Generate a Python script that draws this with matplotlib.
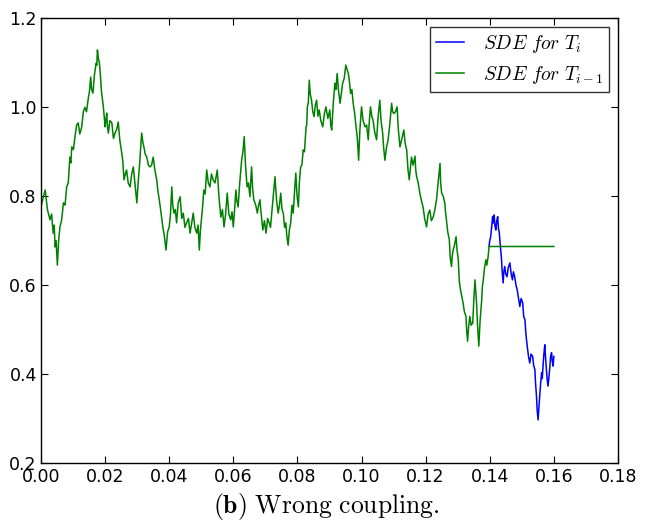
import matplotlib
matplotlib.use('Agg')
import matplotlib.pyplot as plt
from matplotlib.ticker import FormatStrFormatter

plt.rcParams['mathtext.fontset'] = 'cm'

# shared path (SDE for T_{i-1}); last point is the frozen value
t_green = [0.0000, 0.0006, 0.0013, 0.0020, 0.0028, 0.0033, 0.0038, 0.0041, 0.0044, 0.0047,
           0.0051, 0.0055, 0.0059, 0.0064, 0.0070, 0.0075, 0.0080, 0.0085, 0.0090, 0.0093,
           0.0096, 0.0101, 0.0106, 0.0111, 0.0116, 0.0121, 0.0127, 0.0132, 0.0137, 0.0142,
           0.0148, 0.0151, 0.0155, 0.0158, 0.0162, 0.0167, 0.0172, 0.0174, 0.0176, 0.0179,
           0.0182, 0.0185, 0.0189, 0.0194, 0.0200, 0.0202, 0.0205, 0.0207, 0.0210, 0.0215,
           0.0221, 0.0226, 0.0231, 0.0236, 0.0241, 0.0246, 0.0252, 0.0255, 0.0259, 0.0263,
           0.0267, 0.0272, 0.0278, 0.0283, 0.0288, 0.0293, 0.0299, 0.0303, 0.0307, 0.0310,
           0.0314, 0.0318, 0.0321, 0.0325, 0.0330, 0.0335, 0.0340, 0.0345, 0.0350, 0.0355,
           0.0361, 0.0365, 0.0369, 0.0375, 0.0380, 0.0385, 0.0390, 0.0395, 0.0400, 0.0404,
           0.0408, 0.0411, 0.0415, 0.0419, 0.0423, 0.0428, 0.0434, 0.0439, 0.0444, 0.0449,
           0.0454, 0.0460, 0.0465, 0.0470, 0.0475, 0.0480, 0.0486, 0.0490, 0.0494, 0.0497,
           0.0501, 0.0504, 0.0508, 0.0512, 0.0517, 0.0522, 0.0527, 0.0532, 0.0537, 0.0543,
           0.0550, 0.0555, 0.0561, 0.0566, 0.0571, 0.0576, 0.0581, 0.0586, 0.0592, 0.0596,
           0.0600, 0.0604, 0.0608, 0.0611, 0.0615, 0.0620, 0.0626, 0.0630, 0.0634, 0.0638,
           0.0643, 0.0647, 0.0652, 0.0654, 0.0657, 0.0660, 0.0664, 0.0670, 0.0675, 0.0679,
           0.0683, 0.0687, 0.0692, 0.0697, 0.0702, 0.0707, 0.0712, 0.0716, 0.0720, 0.0725,
           0.0730, 0.0735, 0.0740, 0.0744, 0.0748, 0.0752, 0.0756, 0.0760, 0.0764, 0.0767,
           0.0771, 0.0775, 0.0779, 0.0783, 0.0787, 0.0791, 0.0795, 0.0799, 0.0803, 0.0806,
           0.0810, 0.0814, 0.0818, 0.0822, 0.0827, 0.0829, 0.0831, 0.0834, 0.0837, 0.0840,
           0.0844, 0.0848, 0.0852, 0.0856, 0.0860, 0.0864, 0.0868, 0.0873, 0.0879, 0.0884,
           0.0889, 0.0895, 0.0901, 0.0904, 0.0907, 0.0912, 0.0917, 0.0920, 0.0924, 0.0928,
           0.0933, 0.0937, 0.0941, 0.0946, 0.0951, 0.0955, 0.0959, 0.0962, 0.0966, 0.0970,
           0.0974, 0.0978, 0.0983, 0.0987, 0.0991, 0.0995, 0.1000, 0.1005, 0.1011, 0.1016,
           0.1021, 0.1024, 0.1028, 0.1032, 0.1036, 0.1041, 0.1047, 0.1052, 0.1057, 0.1061,
           0.1066, 0.1069, 0.1073, 0.1078, 0.1083, 0.1088, 0.1094, 0.1097, 0.1101, 0.1106,
           0.1111, 0.1115, 0.1120, 0.1126, 0.1132, 0.1136, 0.1141, 0.1145, 0.1149, 0.1152,
           0.1156, 0.1161, 0.1167, 0.1169, 0.1172, 0.1177, 0.1182, 0.1187, 0.1192, 0.1197,
           0.1203, 0.1208, 0.1213, 0.1218, 0.1224, 0.1229, 0.1234, 0.1239, 0.1245, 0.1247,
           0.1250, 0.1255, 0.1260, 0.1262, 0.1265, 0.1269, 0.1274, 0.1277, 0.1281, 0.1283,
           0.1286, 0.1290, 0.1295, 0.1298, 0.1302, 0.1305, 0.1309, 0.1313, 0.1317, 0.1321,
           0.1326, 0.1328, 0.1331, 0.1334, 0.1338, 0.1342, 0.1347, 0.1350, 0.1354, 0.1356,
           0.1359, 0.1362, 0.1366, 0.1370, 0.1375, 0.1377, 0.1380, 0.1384, 0.1388, 0.1391,
           0.1395, 0.1398, 0.1600]
y_green = [0.776, 0.795, 0.814, 0.770, 0.747, 0.760, 0.717, 0.735, 0.686, 0.700,
           0.645, 0.700, 0.731, 0.745, 0.785, 0.780, 0.821, 0.830, 0.888, 0.875,
           0.911, 0.905, 0.934, 0.960, 0.965, 0.940, 0.956, 0.990, 1.000, 0.990,
           1.023, 1.035, 1.068, 1.040, 1.032, 1.075, 1.099, 1.095, 1.129, 1.110,
           1.100, 1.075, 1.032, 1.005, 0.956, 0.970, 0.987, 0.960, 0.942, 0.970,
           0.965, 0.930, 0.942, 0.950, 0.967, 0.925, 0.897, 0.880, 0.837, 0.850,
           0.859, 0.830, 0.821, 0.850, 0.866, 0.830, 0.785, 0.830, 0.866, 0.900,
           0.942, 0.920, 0.911, 0.895, 0.888, 0.870, 0.866, 0.870, 0.888, 0.860,
           0.837, 0.810, 0.792, 0.760, 0.731, 0.710, 0.679, 0.720, 0.731, 0.760,
           0.821, 0.780, 0.762, 0.770, 0.740, 0.785, 0.799, 0.750, 0.762, 0.730,
           0.740, 0.750, 0.717, 0.740, 0.762, 0.730, 0.717, 0.735, 0.679, 0.720,
           0.753, 0.775, 0.814, 0.805, 0.859, 0.830, 0.821, 0.850, 0.837, 0.830,
           0.859, 0.800, 0.753, 0.770, 0.731, 0.760, 0.807, 0.760, 0.747, 0.765,
           0.731, 0.770, 0.814, 0.790, 0.776, 0.830, 0.881, 0.900, 0.934, 0.870,
           0.821, 0.830, 0.799, 0.830, 0.866, 0.820, 0.792, 0.780, 0.762, 0.780,
           0.792, 0.760, 0.724, 0.745, 0.717, 0.750, 0.740, 0.730, 0.762, 0.800,
           0.844, 0.790, 0.762, 0.780, 0.807, 0.770, 0.762, 0.730, 0.740, 0.710,
           0.690, 0.725, 0.740, 0.780, 0.762, 0.810, 0.852, 0.800, 0.776, 0.830,
           0.866, 0.870, 0.904, 0.900, 0.956, 0.960, 1.001, 1.010, 1.061, 1.030,
           1.016, 0.990, 0.979, 1.005, 1.016, 0.980, 0.994, 0.970, 0.956, 0.985,
           1.001, 0.975, 0.994, 0.960, 0.949, 1.010, 1.054, 1.040, 1.076, 1.040,
           1.009, 1.030, 1.054, 1.065, 1.095, 1.085, 1.076, 1.060, 1.031, 1.040,
           1.009, 0.990, 0.956, 0.930, 0.881, 0.950, 1.001, 0.970, 0.956, 0.960,
           0.927, 0.965, 1.001, 0.980, 0.971, 0.945, 0.927, 0.980, 1.016, 0.970,
           0.942, 0.910, 0.881, 0.910, 0.927, 0.960, 1.009, 0.990, 0.986, 0.990,
           1.001, 0.950, 0.911, 0.930, 0.949, 0.920, 0.904, 0.860, 0.837, 0.860,
           0.888, 0.870, 0.890, 0.860, 0.844, 0.830, 0.807, 0.790, 0.776, 0.750,
           0.731, 0.760, 0.769, 0.745, 0.754, 0.770, 0.792, 0.830, 0.874, 0.830,
           0.807, 0.800, 0.784, 0.765, 0.747, 0.720, 0.702, 0.660, 0.642, 0.665,
           0.679, 0.690, 0.709, 0.680, 0.657, 0.610, 0.589, 0.575, 0.560, 0.540,
           0.530, 0.500, 0.474, 0.505, 0.530, 0.510, 0.515, 0.560, 0.612, 0.590,
           0.560, 0.510, 0.463, 0.520, 0.567, 0.595, 0.612, 0.640, 0.657, 0.645,
           0.664, 0.687, 0.687]

# branch after the coupling time (SDE for T_i)
t_blue = [0.1398, 0.1400, 0.1403, 0.1406, 0.1409, 0.1411, 0.1414, 0.1416, 0.1419, 0.1422,
          0.1425, 0.1427, 0.1430, 0.1433, 0.1437, 0.1439, 0.1442, 0.1444, 0.1447, 0.1450,
          0.1454, 0.1458, 0.1463, 0.1467, 0.1471, 0.1474, 0.1478, 0.1482, 0.1486, 0.1490,
          0.1494, 0.1498, 0.1503, 0.1506, 0.1510, 0.1513, 0.1517, 0.1521, 0.1525, 0.1529,
          0.1534, 0.1537, 0.1541, 0.1543, 0.1546, 0.1548, 0.1551, 0.1553, 0.1556, 0.1559,
          0.1562, 0.1564, 0.1567, 0.1569, 0.1572, 0.1574, 0.1577, 0.1579, 0.1582, 0.1585,
          0.1588, 0.1590, 0.1593, 0.1595, 0.1598, 0.1600]
y_blue = [0.687, 0.700, 0.709, 0.730, 0.754, 0.740, 0.758, 0.735, 0.724, 0.745,
          0.754, 0.730, 0.717, 0.690, 0.657, 0.630, 0.605, 0.630, 0.642, 0.625,
          0.619, 0.640, 0.650, 0.625, 0.612, 0.630, 0.619, 0.600, 0.589, 0.570,
          0.552, 0.570, 0.560, 0.530, 0.522, 0.490, 0.463, 0.440, 0.425, 0.445,
          0.440, 0.420, 0.410, 0.380, 0.350, 0.320, 0.297, 0.320, 0.350, 0.380,
          0.403, 0.390, 0.425, 0.445, 0.466, 0.440, 0.410, 0.390, 0.373, 0.395,
          0.418, 0.440, 0.448, 0.430, 0.418, 0.440]

fig = plt.figure(figsize=(6.46, 5.25), dpi=100)
ax = fig.add_axes([0.0635, 0.118, 0.893, 0.847])

ax.plot(t_blue, y_blue, color='b', lw=1.1, label=r'$SDE\ for\ T_i$')
ax.plot(t_green, y_green, color='g', lw=1.1, label=r'$SDE\ for\ T_{i-1}$')

ax.set_xlim(0, 0.18)
ax.set_ylim(0.2, 1.2)
ax.set_xticks([0.00, 0.02, 0.04, 0.06, 0.08, 0.10, 0.12, 0.14, 0.16, 0.18])
ax.set_yticks([0.2, 0.4, 0.6, 0.8, 1.0, 1.2])
ax.xaxis.set_major_formatter(FormatStrFormatter('%.2f'))
ax.yaxis.set_major_formatter(FormatStrFormatter('%.1f'))
ax.tick_params(direction='in', top=True, right=True, length=5, labelsize=12.5)
ax.tick_params(axis='x', pad=3.5)
ax.tick_params(axis='y', pad=3)
for s in ax.spines.values():
    s.set_linewidth(1.0)

leg = ax.legend(loc='upper right', fontsize=14, handlelength=1.45, handletextpad=0.95,
                borderpad=0.3, labelspacing=0.45, frameon=True, fancybox=False,
                borderaxespad=0.45)
leg.get_frame().set_edgecolor('black')
leg.get_frame().set_linewidth(1.0)

fig.text(0.505, 0.036, r'$\mathbf{(b)}\ \mathrm{Wrong\ coupling.}$', ha='center',
         va='center', fontsize=18.5)

fig.savefig('out.png', dpi=100)
